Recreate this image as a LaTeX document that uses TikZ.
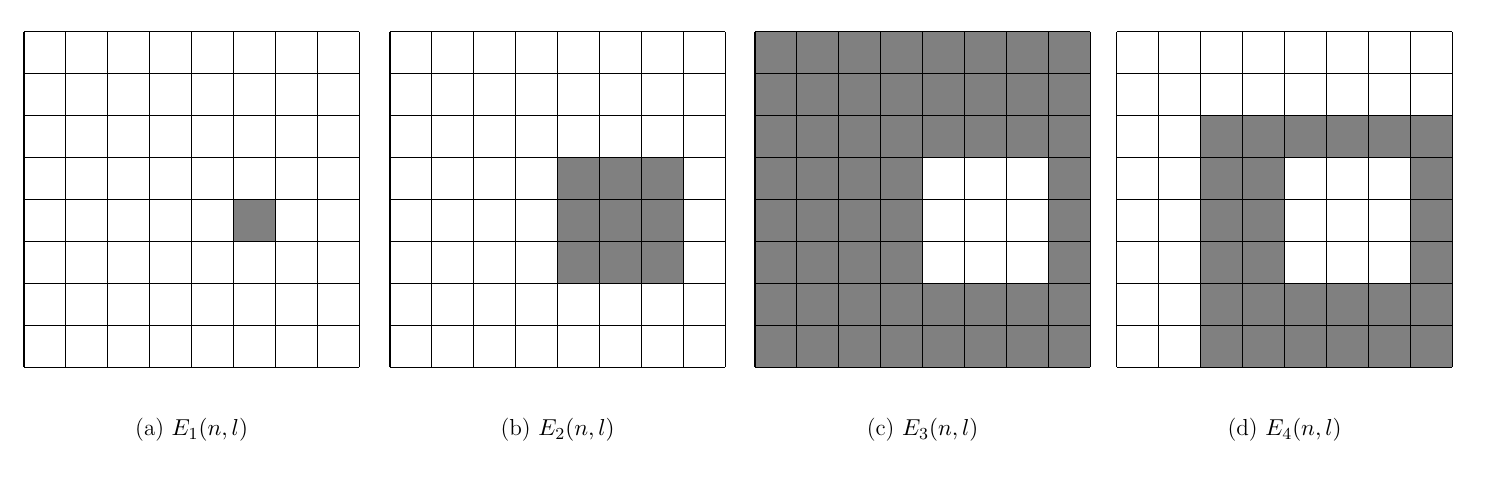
\documentclass[tikz,border=0pt]{standalone}
\usepackage{amsmath,amssymb}
\usepackage{tikz}
\usetikzlibrary{positioning}
\definecolor{cShade}{RGB}{128,128,128}
\tikzset{
  gridline/.style={draw=black, line width=0.5pt},
  cellOn/.style={fill=cShade},
  sublabel/.style={font=\fontsize{11}{13}\selectfont, anchor=center},
}
\newcommand{\cellgrid}{%
  \foreach \k in {0,...,8} {
    \draw[gridline] (\k,0) -- (\k,8);
    \draw[gridline] (0,\k) -- (8,\k);
  }%
}

\begin{document}
\begin{tikzpicture}[x=0.7cm, y=-0.7cm]

%% ============================================================
%%  CANVAS  (1500 x 500 px at 59.86 px per cm)
%% ============================================================
\useasboundingbox (-0.573, -0.763) rectangle (35.227, 11.170);

%% ============================================================
%%  GRID (a): single cell
%% ============================================================
\begin{scope}[xshift=0cm]
  \fill[cellOn] (5,4) rectangle (6,5);
  \cellgrid
  \node[sublabel] (capA) at (4,9.5) {(a) $E_1(n,l)$};
\end{scope}

%% ============================================================
%%  GRID (b): 3x3 block
%% ============================================================
\begin{scope}[xshift=6.114cm]
  \fill[cellOn] (4,3) rectangle (7,6);
  \cellgrid
  \node[sublabel] (capB) at (4,9.5) {(b) $E_2(n,l)$};
\end{scope}

%% ============================================================
%%  GRID (c): everything but the 3x3 block
%% ============================================================
\begin{scope}[xshift=12.212cm]
  \fill[cellOn, even odd rule] (0,0) rectangle (8,8) (4,3) rectangle (7,6);
  \cellgrid
  \node[sublabel] (capC) at (4,9.5) {(c) $E_3(n,l)$};
\end{scope}

%% ============================================================
%%  GRID (d): ring round the 3x3 block
%% ============================================================
\begin{scope}[xshift=18.259cm]
  \fill[cellOn, even odd rule] (2,2) rectangle (8,8) (4,3) rectangle (7,6);
  \cellgrid
  \node[sublabel] (capD) at (4,9.5) {(d) $E_4(n,l)$};
\end{scope}

\end{tikzpicture}
\end{document}
